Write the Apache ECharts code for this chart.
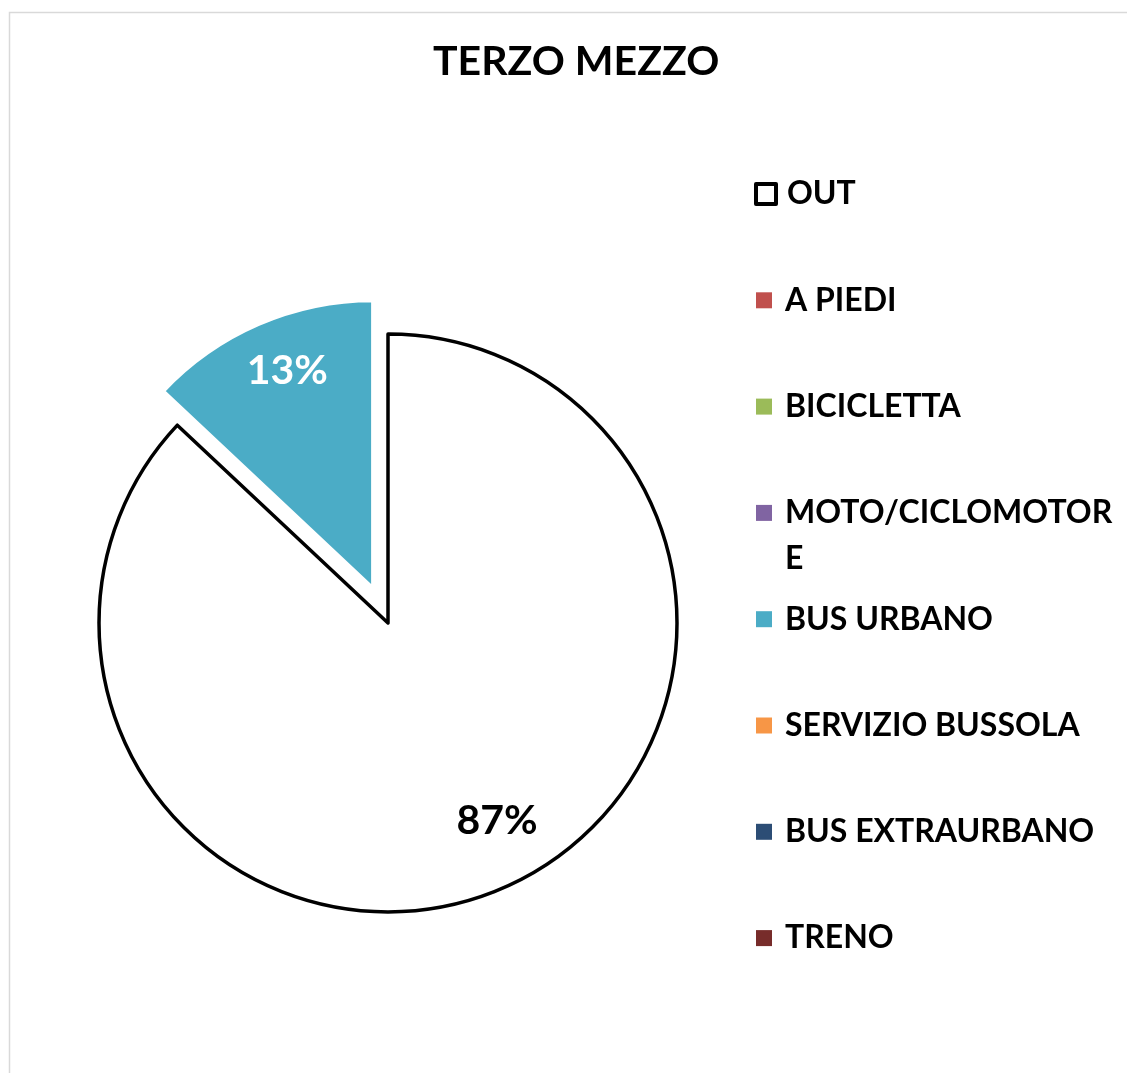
<!DOCTYPE html>
<html>
<head>
<meta charset="utf-8">
<script src="https://cdn.jsdelivr.net/npm/echarts@6/dist/echarts.min.js"></script>
<style>
  html, body { margin: 0; padding: 0; background: #ffffff; }
  #chart { width: 1127px; height: 1073px; }
</style>
</head>
<body>
<div id="chart"></div>
<script>
// Trip counts by third means of transport (share, %)
const chartTitle = 'TERZO MEZZO';
const categories = ['OUT', 'A PIEDI', 'BICICLETTA', 'MOTO/CICLOMOTORE', 'BUS URBANO', 'SERVIZIO BUSSOLA', 'BUS EXTRAURBANO', 'TRENO'];
const shares = [87, 0, 0, 0, 13, 0, 0, 0];
const sliceColors = ['#FFFFFF', '#C0504D', '#9BBB59', '#8064A2', '#4BACC6', '#F79646', '#2C4D75', '#772C2A'];
const explodedSlices = ['BUS URBANO'];

// layout
const FONT = 'Lato';
const PIE_CX = 388, PIE_CY = 623, PIE_R = 289;
const EXPLODE = 37;
// where the percentage labels sit: fraction of radius and angular nudge (deg, clockwise)
const labelPlacement = { 'OUT': { frac: 0.77, turn: -5.6 }, 'BUS URBANO': { frac: 0.80, turn: 1.9 } };

const total = shares.reduce((a, b) => a + b, 0);
// mid angle of each slice, degrees clockwise from 12 o'clock
const midAngles = [];
let acc = 0;
shares.forEach(v => { midAngles.push((acc + v / 2) / total * 360); acc += v; });

const chart = echarts.init(document.getElementById('chart'), null, { renderer: 'canvas' });

const legendFirstY = 194, legendStep = 106.3, legendMarkX = 764, legendTextX = 785;
const legendLine = 40, wrapLine = 46;

const legends = categories.map((name, i) => {
  const isOut = i === 0;
  const wrap = name === 'MOTO/CICLOMOTORE';
  const size = isOut ? 20 : 16;
  const left = legendMarkX - size / 2;
  const lh = wrap ? wrapLine : legendLine;
  // wrapped entry: a blank line above keeps the first text line level with the marker
  const boxH = wrap ? 3 * lh : lh;
  const cy = legendFirstY + i * legendStep;
  return {
    show: true,
    orient: 'vertical',
    left: left,
    top: cy - boxH / 2,
    padding: 0,
    itemGap: 0,
    itemWidth: size,
    itemHeight: size,
    icon: 'rect',
    selectedMode: false,
    data: [name],
    formatter: wrap ? () => ' \nMOTO/CICLOMOTOR\nE' : '{name}',
    itemStyle: isOut ? { color: '#ffffff', borderColor: '#000000', borderWidth: 4 } : { borderWidth: 0 },
    textStyle: {
      fontFamily: FONT, fontWeight: 'bold', fontSize: 32, color: '#000000',
      lineHeight: lh,
      padding: [0, 0, 0, legendTextX - left - size - 5]
    }
  };
});

const option = {
  animation: false,
  backgroundColor: '#ffffff',
  title: {
    text: chartTitle,
    left: 433,
    top: 38,
    padding: 0,
    textStyle: { fontFamily: FONT, fontWeight: 'bold', fontSize: 41, color: '#000000', lineHeight: 48 }
  },
  graphic: [{
    type: 'rect',
    silent: true,
    shape: { x: 9.5, y: 12.5, width: 1300, height: 1300 },
    style: { fill: 'none', stroke: '#d9d9d9', lineWidth: 1.5 }
  }],
  legend: legends,
  series: [{
    type: 'pie',
    center: [PIE_CX, PIE_CY],
    radius: [0, PIE_R],
    startAngle: 90,
    clockwise: true,
    selectedMode: 'multiple',
    selectedOffset: EXPLODE,
    avoidLabelOverlap: false,
    percentPrecision: 0,
    emphasis: { disabled: true },
    label: {
      show: true,
      position: 'inside',
      fontFamily: FONT,
      fontWeight: 'bold',
      fontSize: 41,
      formatter: p => (p.value > 0 ? p.percent + '%' : '')
    },
    labelLine: { show: false },
    labelLayout: params => {
      const name = categories[params.dataIndex];
      const place = labelPlacement[name];
      if (!place) return {};
      const mid = midAngles[params.dataIndex] * Math.PI / 180;
      const tgt = (midAngles[params.dataIndex] + place.turn) * Math.PI / 180;
      const defX = PIE_R / 2 * Math.sin(mid), defY = -PIE_R / 2 * Math.cos(mid);
      const tx = place.frac * PIE_R * Math.sin(tgt), ty = -place.frac * PIE_R * Math.cos(tgt);
      return { dx: tx - defX, dy: ty - defY };
    },
    data: categories.map((name, i) => ({
      name: name,
      value: shares[i],
      selected: explodedSlices.includes(name),
      itemStyle: {
        color: sliceColors[i],
        borderColor: i === 0 ? '#000000' : '#ffffff',
        borderWidth: i === 0 ? 3.5 : (shares[i] > 0 ? 4.4 : 0)
      },
      label: { color: i === 0 ? '#000000' : '#ffffff' }
    }))
  }]
};

chart.setOption(option);
</script>
</body>
</html>
